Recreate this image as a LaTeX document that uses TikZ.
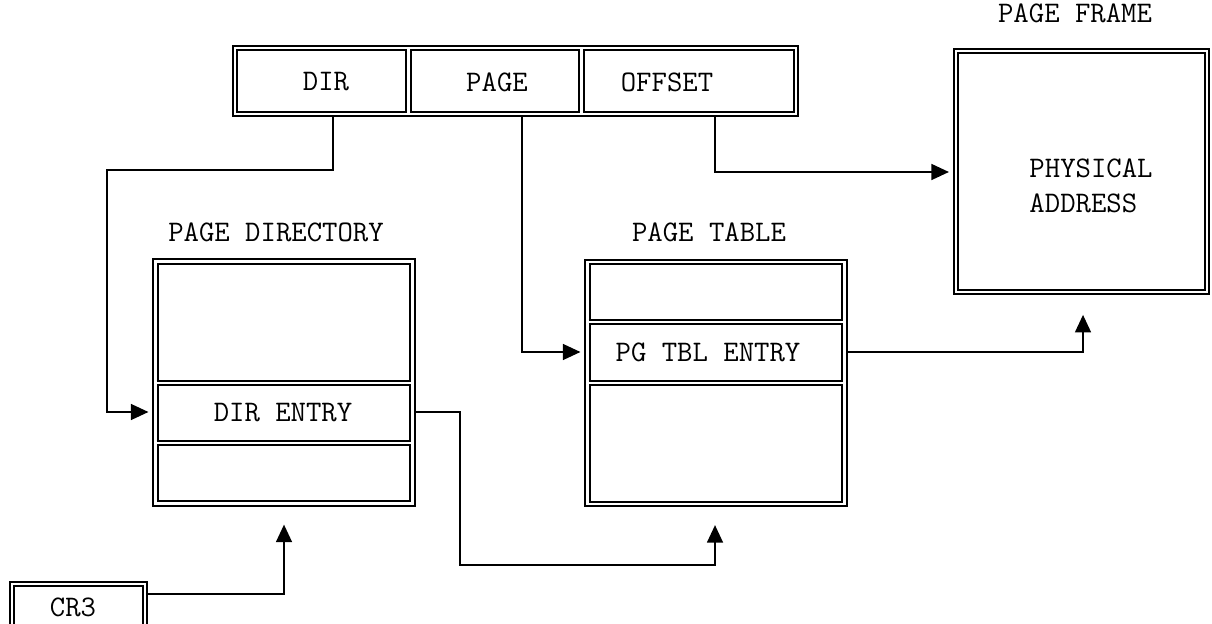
\documentclass[tikz,border=0pt]{standalone}
\usepackage{fontspec}
\usetikzlibrary{arrows.meta}

\begin{document}
\begin{tikzpicture}[
        x=0.02cm, y=-0.02cm,
        font=\ttfamily\fontsize{17}{20}\selectfont,
        dblbox/.style 2 args={draw, double, line width=1.15pt, double distance=1.3pt,
            inner sep=0pt, outer sep=0pt, minimum width=#1*0.02cm, minimum height=#2*0.02cm},
        divider/.style={double, line width=1.15pt, double distance=1.3pt, shorten <=0.65pt, shorten >=0.65pt},
        caption/.style={inner sep=0pt},
        arrow/.style={-{Triangle[length=10pt, width=9pt]}, line width=1.2pt, shorten <=1.8pt}
    ]
    \useasboundingbox (0,0) rectangle (1212,624);

    % linear address
    \node[dblbox={561}{66}] (addr) at (515.5,81) {};
    \draw[divider] (addr.north -| 408.5,0) -- (addr.south -| 408.5,0);
    \draw[divider] (addr.north -| 581.5,0) -- (addr.south -| 581.5,0);
    \node[caption] (dir) at (326,82) {DIR};
    \node[caption] (page) at (497,82) {PAGE};
    \node[caption] (offset) at (667,82) {OFFSET};

    % page directory
    \node[caption] (pdirlbl) at (276,232) {PAGE DIRECTORY};
    \node[dblbox={257}{242}] (pdir) at (284,382.5) {};
    \draw[divider] (pdir.west |- 0,383) -- (pdir.east |- 0,383);
    \draw[divider] (pdir.west |- 0,443) -- (pdir.east |- 0,443);
    \node[caption] (direntry) at (283,412.5) {DIR ENTRY};

    % page table
    \node[caption] (ptbllbl) at (709,232) {PAGE TABLE};
    \node[dblbox={257}{242}] (ptbl) at (716,383) {};
    \draw[divider] (ptbl.west |- 0,322) -- (ptbl.east |- 0,322);
    \draw[divider] (ptbl.west |- 0,383) -- (ptbl.east |- 0,383);
    \node[caption] (pgentry) at (708,352.5) {PG TBL ENTRY};

    % page frame
    \node[caption] (pframelbl) at (1075,13) {PAGE FRAME};
    \node[dblbox={251}{241}] (pframe) at (1081.5,171.5) {};
    \node[caption, align=left] (phys) at (1091,185.5) {PHYSICAL\\ADDRESS};

    % CR3
    \node[dblbox={133}{44}] (cr3) at (78.5,606) {};
    \node[caption] (cr3txt) at (73,607) {CR3};

    % connectors
    \draw[arrow, shorten >=4pt] (addr.south -| 333,0) |- (107,170) |- (pdir.west |- 0,412);
    \draw[arrow, shorten >=4pt] (addr.south -| 522,0) |- (ptbl.west |- 0,352);
    \draw[arrow, shorten >=4pt] (addr.south -| 715,0) |- (pframe.west |- 0,172);
    \draw[arrow, shorten >=13pt] (ptbl.east |- 0,352) -| (pframe.south -| 1083,0);
    \draw[arrow, shorten >=12pt] (pdir.east |- 0,412) -| (460,565) -| (ptbl.south -| 715,0);
    \draw[arrow, shorten >=12pt] (cr3.east |- 0,594) -| (pdir.south -| 284,0);

\end{tikzpicture}
\end{document}
